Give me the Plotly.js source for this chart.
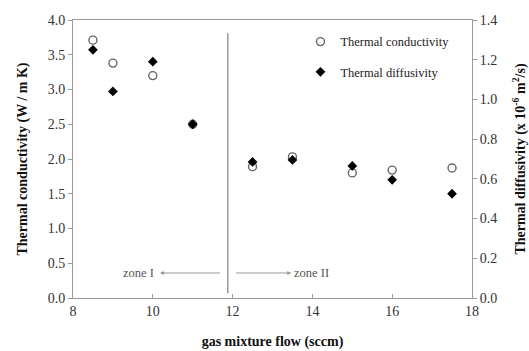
<!DOCTYPE html>
<html>
<head>
<meta charset="utf-8">
<script src="https://cdn.plot.ly/plotly-3.0.1.min.js"></script>
<style>html,body{margin:0;padding:0;background:#fff;}#chart{width:529px;height:351px;}</style>
</head>
<body>
<div id="chart"></div>
<script>
var flow = [8.5, 9, 10, 11, 12.5, 13.5, 15, 16, 17.5];
var conductivity = [3.71, 3.38, 3.20, 2.50, 1.89, 2.03, 1.80, 1.84, 1.87];
var diffusivity = [1.25, 1.04, 1.19, 0.875, 0.685, 0.695, 0.665, 0.595, 0.525];
var seriesNames = ["Thermal conductivity", "Thermal diffusivity"];
var xTicks = [8, 10, 12, 14, 16, 18];
var yTicks = [0, 0.5, 1, 1.5, 2, 2.5, 3, 3.5, 4];
var y2Ticks = [0, 0.2, 0.4, 0.6, 0.8, 1.0, 1.2, 1.4];
var zoneBoundary = 11.88;
var zoneLabels = ["zone I", "zone II"];

var serif = "Liberation Serif, Times New Roman, serif";
var axisCol = "#9a9a9a";
var tickCol = "#333";

var traces = [
  {
    x: flow, y: conductivity, name: seriesNames[0], type: "scatter", mode: "markers",
    yaxis: "y", legendgroup: "a",
    marker: {symbol: "circle-open", size: 8, color: "#666", line: {width: 1.4, color: "#666"}}
  },
  {
    x: flow, y: diffusivity, name: seriesNames[1], type: "scatter", mode: "markers",
    yaxis: "y2", legendgroup: "b",
    marker: {symbol: "diamond", size: 7.5, color: "#000"}
  }
];

var layout = {
  width: 529, height: 351,
  margin: {l: 73, r: 57, t: 20, b: 53},
  paper_bgcolor: "#fff", plot_bgcolor: "#fff",
  font: {family: serif, color: tickCol, size: 13},
  showlegend: true,
  legend: {
    x: 0.57, y: 0.975, xanchor: "left", yanchor: "top",
    bgcolor: "rgba(0,0,0,0)", borderwidth: 0,
    font: {family: serif, size: 12.5, color: "#222"},
    tracegroupgap: 11, itemwidth: 30
  },
  xaxis: {
    range: [8, 18], tickvals: xTicks, ticktext: xTicks.map(String),
    showgrid: false, zeroline: false,
    showline: true, linecolor: axisCol, linewidth: 1, mirror: true,
    ticks: "inside", ticklen: 4, tickcolor: axisCol,
    tickfont: {family: serif, size: 14, color: tickCol},
    title: {text: "<b>gas mixture flow (sccm)</b>", font: {family: serif, size: 14, color: "#111"}, standoff: 18}
  },
  yaxis: {
    range: [0, 4], tickvals: yTicks, ticktext: yTicks.map(function(v){return v.toFixed(1);}),
    showgrid: false, zeroline: false,
    showline: true, linecolor: axisCol, linewidth: 1,
    ticks: "outside", ticklen: 4, tickcolor: axisCol,
    tickfont: {family: serif, size: 14, color: tickCol},
    title: {text: "<b>Thermal conductivity (W / m K)</b>", font: {family: serif, size: 14, color: "#111"}, standoff: 16}
  },
  yaxis2: {
    overlaying: "y", side: "right",
    range: [0, 1.4], tickvals: y2Ticks, ticktext: y2Ticks.map(function(v){return v.toFixed(1);}),
    showgrid: false, zeroline: false,
    showline: true, linecolor: axisCol, linewidth: 1,
    ticks: "outside", ticklen: 4, tickcolor: axisCol,
    tickfont: {family: serif, size: 14, color: tickCol},
    title: {text: "<b>Thermal diffusivity (x 10<sup>-6</sup> m<sup>2</sup>/s)</b>", font: {family: serif, size: 14, color: "#111"}, standoff: 18}
  },
  shapes: [
    {type: "line", xref: "x", yref: "y", x0: zoneBoundary, x1: zoneBoundary, y0: 0.07, y1: 3.81,
     line: {color: "#8a8a8a", width: 1.3}}
  ],
  annotations: [
    {xref: "x", yref: "y", axref: "x", ayref: "y", x: 10.18, y: 0.36, ax: 11.72, ay: 0.36,
     text: "", showarrow: true, arrowhead: 2, arrowsize: 0.8, arrowwidth: 1, arrowcolor: "#999"},
    {xref: "x", yref: "y", axref: "x", ayref: "y", x: 13.47, y: 0.36, ax: 12.05, ay: 0.36,
     text: "", showarrow: true, arrowhead: 2, arrowsize: 0.8, arrowwidth: 1, arrowcolor: "#999"},
    {xref: "x", yref: "y", x: 10.07, y: 0.36, xanchor: "right", yanchor: "middle", showarrow: false,
     text: zoneLabels[0], font: {family: serif, size: 12.5, color: "#555"}},
    {xref: "x", yref: "y", x: 13.5, y: 0.36, xanchor: "left", yanchor: "middle", showarrow: false,
     text: zoneLabels[1], font: {family: serif, size: 12.5, color: "#555"}}
  ]
};

Plotly.newPlot("chart", traces, layout, {staticPlot: true, displayModeBar: false});
</script>
</body>
</html>
